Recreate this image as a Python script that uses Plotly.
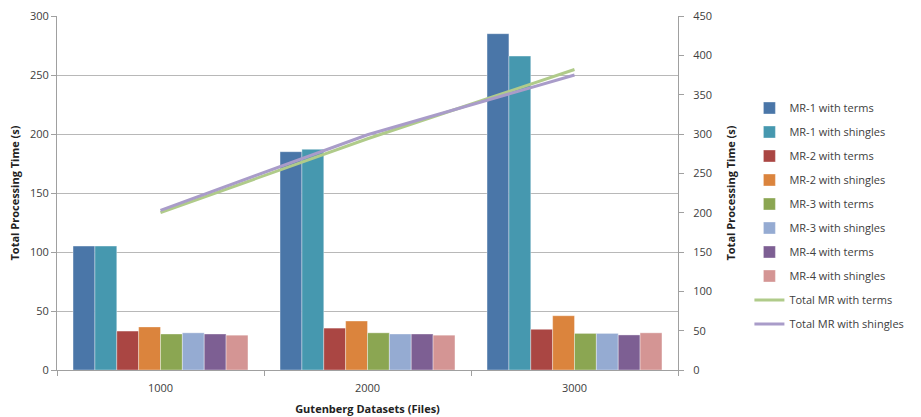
import plotly.graph_objects as go

categories = ["1000", "2000", "3000"]

bar_names = ["MR-1 with terms", "MR-1 with shingles", "MR-2 with terms", "MR-2 with shingles",
             "MR-3 with terms", "MR-3 with shingles", "MR-4 with terms", "MR-4 with shingles"]
mr1_terms = [105, 185, 285]
mr1_shingles = [105, 187, 266]
mr2_terms = [33, 35.5, 34.5]
mr2_shingles = [36.5, 41.5, 46]
mr3_terms = [30.5, 31.5, 31]
mr3_shingles = [31.5, 30.5, 31]
mr4_terms = [30.5, 30.5, 29.7]
mr4_shingles = [29.5, 29.5, 31.5]
bar_values = [mr1_terms, mr1_shingles, mr2_terms, mr2_shingles,
              mr3_terms, mr3_shingles, mr4_terms, mr4_shingles]
bar_colors = ["#4A76A8", "#4698AF", "#AA4643", "#DB843D",
              "#8BA652", "#95ABD2", "#7D5F93", "#D49594"]

total_terms = [200, 294, 382]
total_shingles = [203, 299, 375]

font_family = "Open Sans, Liberation Sans, sans-serif"

fig = go.Figure()
for i, (name, vals, col) in enumerate(zip(bar_names, bar_values, bar_colors)):
    fig.add_trace(go.Bar(x=categories, y=vals, name=name, legendgroup=f"g{i}",
                         marker=dict(color=col, line=dict(color="rgba(255,255,255,0.6)", width=0.6))))

fig.add_trace(go.Scatter(x=categories, y=total_terms, name="Total MR with terms", yaxis="y2",
                         legendgroup="g8",
                         mode="lines", line=dict(color="#B0CB8A", width=3)))
fig.add_trace(go.Scatter(x=categories, y=total_shingles, name="Total MR with shingles", yaxis="y2",
                         legendgroup="g9",
                         mode="lines", line=dict(color="#A99CC9", width=3)))

axis_line = "#A0A0A0"
fig.update_layout(
    width=921, height=417,
    margin=dict(l=57, r=235, t=16, b=47),
    paper_bgcolor="white", plot_bgcolor="white",
    barmode="group", bargap=0.155, bargroupgap=0,
    font=dict(family=font_family, size=11, color="#404040"),
    xaxis=dict(
        type="category", automargin=False,
        showline=True, linecolor=axis_line, linewidth=1,
        ticks="outside", ticklen=5, tickcolor=axis_line, tickson="boundaries",
        ticklabelstandoff=8,
        tickfont=dict(size=11, color="#404040"),
        title=dict(text="<b>Gutenberg Datasets (Files)</b>", font=dict(size=11, color="#222222"), standoff=11),
        showgrid=False,
    ),
    yaxis=dict(
        range=[0, 300], dtick=50, automargin=False,
        showline=True, linecolor=axis_line, linewidth=1,
        ticks="outside", ticklen=5, tickcolor=axis_line,
        showgrid=True, gridcolor="#B8B8B8", gridwidth=1,
        tickfont=dict(size=11, color="#404040"),
        title=dict(text="<b>Total Processing Time (s)</b>", font=dict(size=11, color="#222222"), standoff=8),
        zeroline=False,
    ),
    yaxis2=dict(
        range=[0, 450], dtick=50, overlaying="y", side="right", automargin=False,
        showline=True, linecolor=axis_line, linewidth=1,
        ticks="outside", ticklen=5, tickcolor=axis_line,
        ticklabelstandoff=7,
        showgrid=False, zeroline=False,
        tickfont=dict(size=11, color="#404040"),
        title=dict(text="<b>Total Processing Time (s)</b>", font=dict(size=11, color="#222222"), standoff=16),
    ),
    legend=dict(
        x=1.115, xanchor="left", y=0.435, yanchor="middle",
        font=dict(size=11, color="#404040"),
        tracegroupgap=5, itemwidth=30,
        bgcolor="rgba(0,0,0,0)",
    ),
)

fig.write_html("out.html")
